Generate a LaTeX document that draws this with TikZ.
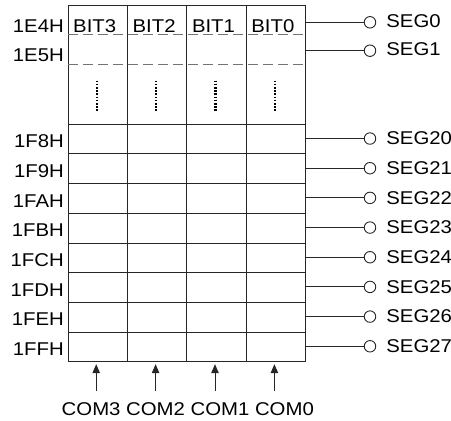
\documentclass[tikz,border=0pt]{standalone}
\usepackage{fontspec}
\setmainfont{Liberation Sans}[FakeStretch=1.1]
\usetikzlibrary{math}
\usetikzlibrary{positioning}
\usetikzlibrary{arrows.meta}

\tikzset{
    lbl/.style={font=\fontsize{18.5}{20}\selectfont, inner sep=0pt},
    gridline/.style={draw=black!85, line width=1pt},
    sepline/.style={draw=black!55, line width=1pt, dash pattern=on 10pt off 5pt},
    dotline/.style={draw=black, line width=2.1pt, dash pattern=on 1.6pt off 1.6pt},
    pad/.style={circle, draw=black!85, line width=0.9pt, minimum size=11.5pt, inner sep=0pt, fill=white},
    comarrow/.style={draw=black!85, line width=1pt, -{Triangle[length=9pt,width=7.5pt]}}
}

\begin{document}
\begin{tikzpicture}[x=1pt,y=-1pt]

    \useasboundingbox (0,0) rectangle (451,421);

    \tikzmath{\xl = 68; \w = 59.4; \yt = 124.3; \h = 29.675; \ytop = 5.7; \ybot = 361.7;};

    % frame and columns
    \draw [gridline] (\xl,\ytop) rectangle (\xl+4*\w,\ybot);
    \foreach \c in {1,2,3}
        \draw [gridline] (\xl+\c*\w,\ytop) -- (\xl+\c*\w,\ybot);

    % dashed rows 1E4H / 1E5H
    \draw [sepline] (\xl,34.3) -- (\xl+4*\w,34.3);
    \draw [sepline] (\xl,64.3) -- (\xl+4*\w,64.3);

    % solid rows 1F8H ... 1FFH
    \foreach \r in {0,...,7}
        \draw [gridline] (\xl,\yt+\r*\h) -- (\xl+4*\w,\yt+\r*\h);

    % dots
    \foreach \c in {0,...,3}
        \draw [dotline] (\xl+\c*\w+\w/2-1,80.5) -- (\xl+\c*\w+\w/2-1,112);

    % bit names
    \foreach \c/\b in {0/3,1/2,2/1,3/0}
        \node [lbl, anchor=base west] (bit\b) at (\xl+\c*\w+5,32) {BIT\b};

    % addresses
    \node [lbl, anchor=base east] (a1E4) at (64,32) {1E4H};
    \node [lbl, anchor=base east] (a1E5) at (64,61.3) {1E5H};
    \foreach \r/\a in {0/1F8H,1/1F9H,2/1FAH,3/1FBH,4/1FCH,5/1FDH,6/1FEH,7/1FFH}
        \node [lbl, anchor=base east] (a\a) at (64,\yt+\r*\h+23.4) {\a};

    % segment outputs
    \coordinate (r0) at (\xl+4*\w,22.3);
    \coordinate (r1) at (\xl+4*\w,50.7);
    \node [pad] (seg0) at (370,22.3) {};
    \node [pad] (seg1) at (370,50.7) {};
    \draw [gridline] (r0) -- (seg0);
    \draw [gridline] (r1) -- (seg1);
    \node [lbl, right=10pt of seg0, yshift=1.2pt] (t0) {SEG0};
    \node [lbl, right=10pt of seg1, yshift=1.5pt] (t1) {SEG1};
    \foreach \r in {0,...,7} {
        \pgfmathtruncatemacro{\s}{20+\r}
        \coordinate (r\s) at (\xl+4*\w,\yt+\r*\h+\h/2-0.6);
        \node [pad] (seg\s) at (370,\yt+\r*\h+\h/2-0.6) {};
        \draw [gridline] (r\s) -- (seg\s);
        \node [lbl, right=10pt of seg\s] (t\s) {SEG\s};
    }

    % common inputs
    \foreach \c/\k in {0/3,1/2,2/1,3/0} {
        \coordinate (ctail\k) at (\xl+\c*\w+\w/2-1.5,391);
        \coordinate (ctip\k) at (\xl+\c*\w+\w/2-1.5,\ybot+2.5);
        \draw [comarrow] (ctail\k) -- (ctip\k);
    }
    \node [lbl, anchor=base] (coms) at (187.8,415.5) {COM3 COM2 COM1 COM0};

\end{tikzpicture}
\end{document}
